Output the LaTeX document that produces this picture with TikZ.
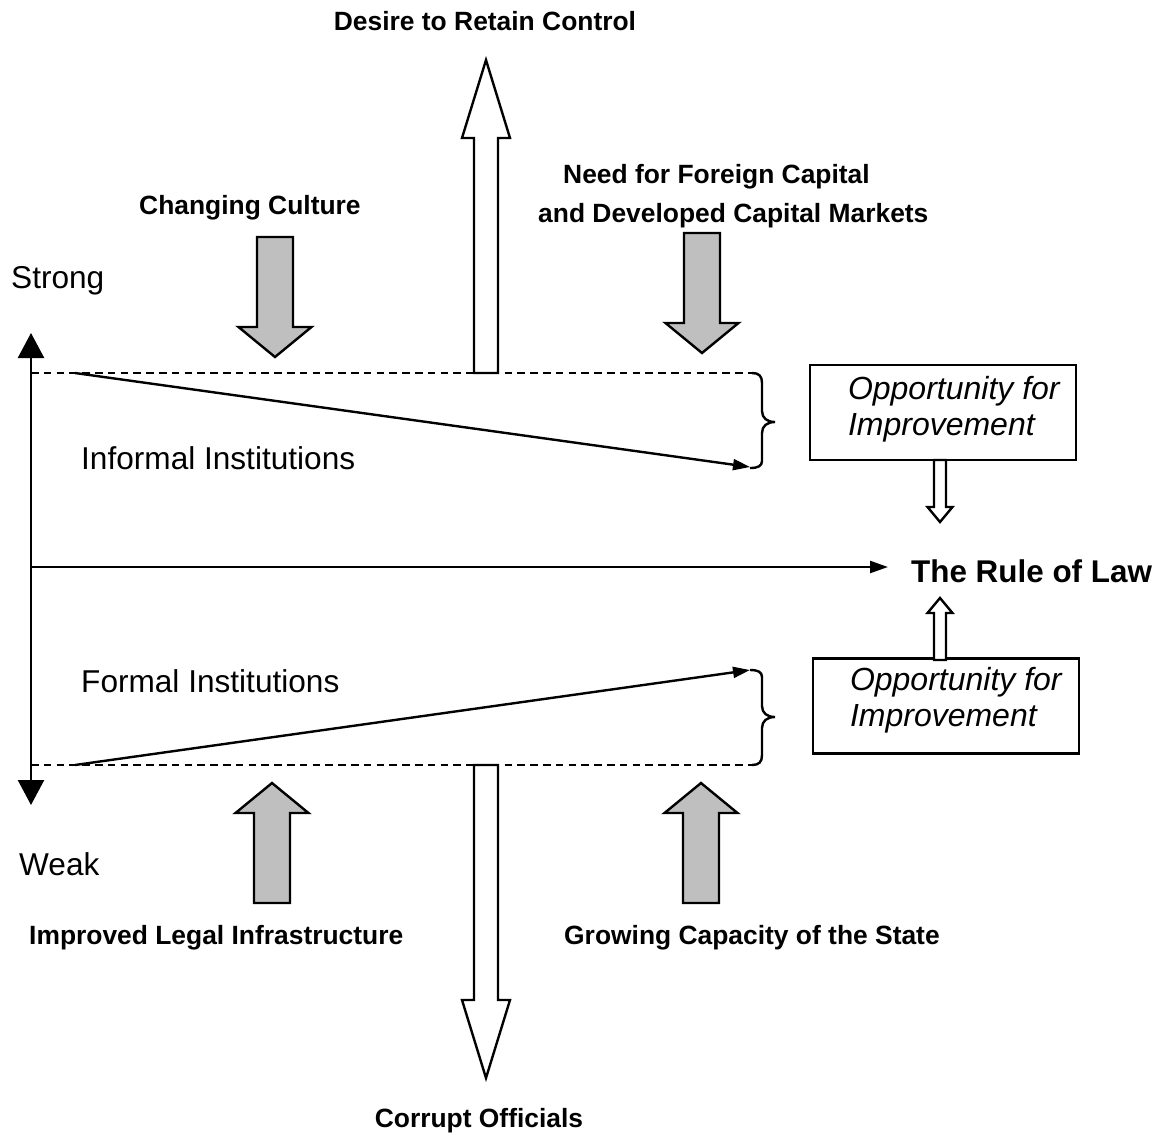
\documentclass[tikz,border=0pt]{standalone}
\usepackage{fontspec}
\setmainfont{Liberation Sans}
\usetikzlibrary{arrows.meta}

\tikzset{
  lbl/.style={inner sep=0pt, anchor=base west, font=\fontsize{15.8}{19}\selectfont},
  cause/.style={inner sep=0pt, anchor=base west, font=\bfseries\fontsize{13.2}{16}\selectfont},
  oppbox/.style={draw, minimum width=133pt, minimum height=47.5pt, inner sep=0pt},
  opptext/.style={inner sep=0pt, anchor=west, align=left, font=\itshape\fontsize{16}{18}\selectfont},
  limit/.style={dash pattern=on 3.8pt off 2.6pt}
}

\begin{document}
\begin{tikzpicture}[x=0.5pt, y=-0.5pt, line width=1.2pt]
        \useasboundingbox (0,0) rectangle (1174,1137);

            % strength axis
            \coordinate (axtop) at (31,333);
            \coordinate (axbot) at (31,805);
            \coordinate (axmid) at (31,567);
            \draw[{Triangle[length=12.5pt,width=13pt]}-{Triangle[length=12.5pt,width=13pt]}] (axtop)--(axbot);
            \node[lbl] (strong) at (10,288) {Strong};
            \node[lbl] (weak) at (18,875) {Weak};

            % dashed limits and braces
            \coordinate (infA) at (31,373);
            \coordinate (infB) at (752,373);
            \coordinate (forA) at (31,765);
            \coordinate (forB) at (752,765);
            \draw[limit] (infA)--(infB);
            \draw[limit] (forA)--(forB);
            \draw (infB) .. controls (759,373) and (762,376) .. (762,383) -- (762,411)
                  .. controls (762,418) and (767,422) .. (775,422)
                  .. controls (767,422) and (762,426) .. (762,433) -- (762,461)
                  .. controls (762,466) and (758,468) .. (750,468);
            \draw (750,670) .. controls (758,670) and (762,672) .. (762,677) -- (762,706)
                  .. controls (762,713) and (767,717) .. (775,717)
                  .. controls (767,717) and (762,721) .. (762,728) -- (762,755)
                  .. controls (762,762) and (759,765) .. (forB);

            % institutions
            \coordinate (infS) at (75,373);
            \coordinate (infE) at (750,467);
            \coordinate (forS) at (75,765);
            \coordinate (forE) at (750,670);
            \draw[-{Triangle[length=8.5pt,width=5.5pt]}] (infS)--(infE);
            \draw[-{Triangle[length=8.5pt,width=5.5pt]}] (forS)--(forE);
            \node[lbl] (informal) at (80,469) {Informal Institutions};
            \node[lbl] (formal) at (80,692) {Formal Institutions};

            \node[inner sep=0pt, anchor=base west, font=\bfseries\fontsize{15.7}{18}\selectfont] (law) at (910,582) {The Rule of Law};
            \draw[-{Triangle[length=9pt,width=6pt]}, shorten >=11pt] (axmid)--(axmid -| law.west);

            \node[oppbox] (oppA) at (943,412.5) {};
            \node[opptext] (oppAtxt) at ([xshift=19pt,yshift=1.4pt]oppA.west) {Opportunity for\\Improvement};
            \node[oppbox] (oppB) at (946,706) {};
            \node[opptext] (oppBtxt) at ([xshift=18.5pt,yshift=2.9pt]oppB.west) {Opportunity for\\Improvement};

            % pressures
            \foreach \tx/\ty/\dir in {275/357/1, 702/353/1, 272/783/-1, 701/783/-1}{
              \filldraw[fill=gray!50, shift={(\tx,\ty)}, yscale=\dir](-18,-120)--(18,-120)--(18,-30)--(36.5,-30)--(0,0)--(-36.5,-30)--(-18,-30)--cycle;
            }

            \foreach \tx/\ty/\dir in {486/60/-1, 486/1078/1}{
              \filldraw[fill=white, shift={(\tx,\ty)}, yscale=\dir](-12,-313)--(12,-313)--(12,-78)--(24,-78)--(0,0)--(-24,-78)--(-12,-78)--cycle;
            }

            \foreach \tx/\ty/\dir in {940/522/1, 940/598/-1}{
              \filldraw[fill=white, shift={(\tx,\ty)}, yscale=\dir](-6,-62)--(6,-62)--(6,-15)--(12.5,-15)--(0,0)--(-12.5,-15)--(-6,-15)--cycle;
            }

            \node[cause, anchor=base] (desire) at (485,30) {Desire to Retain Control};
            \node[cause] (culture) at (138,214) {Changing Culture};
            \node[cause] (capitalA) at (562,183) {Need for Foreign Capital};
            \node[cause] (capitalB) at (537,222) {and Developed Capital Markets};
            \node[cause] (legal) at (28,944) {Improved Legal Infrastructure};
            \node[cause] (state) at (563,944) {Growing Capacity of the State};
            \node[cause, anchor=base] (corrupt) at (479,1127) {Corrupt Officials};

         % \node at (0,0) {};
        \end{tikzpicture}
\end{document}
